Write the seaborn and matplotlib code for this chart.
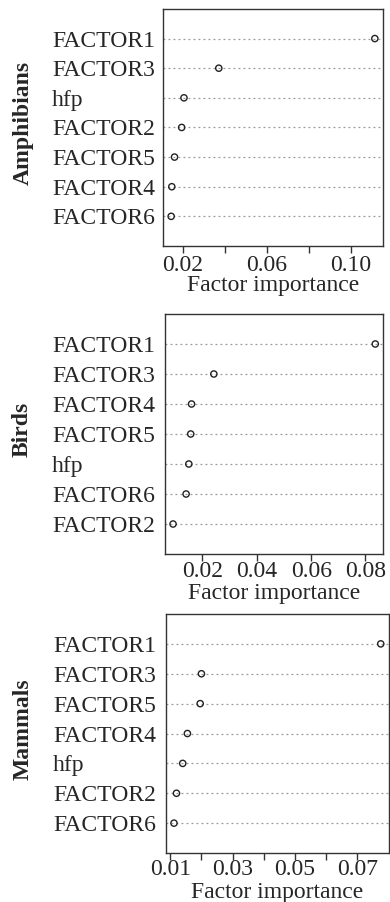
import numpy as np
import pandas as pd
import matplotlib
matplotlib.use("Agg")
import matplotlib.pyplot as plt
import seaborn as sns

# Factor importance, top to bottom as in each dotchart
amph_names = ['FACTOR1', 'FACTOR3', 'hfp', 'FACTOR2', 'FACTOR5', 'FACTOR4', 'FACTOR6']
amph_vals = [0.1116, 0.0372, 0.0206, 0.0195, 0.0161, 0.0148, 0.0145]

birds_names = ['FACTOR1', 'FACTOR3', 'FACTOR4', 'FACTOR5', 'hfp', 'FACTOR6', 'FACTOR2']
birds_vals = [0.0836, 0.0242, 0.0160, 0.0157, 0.0150, 0.0140, 0.0092]

mamm_names = ['FACTOR1', 'FACTOR3', 'FACTOR5', 'FACTOR4', 'hfp', 'FACTOR2', 'FACTOR6']
mamm_vals = [0.0775, 0.0200, 0.0196, 0.0155, 0.0140, 0.0120, 0.0112]

groups = ['Amphibians', 'Birds', 'Mammals']

amph_ticks = [0.02, 0.04, 0.06, 0.08, 0.10]
amph_ticklabels = ['0.02', '', '0.06', '', '0.10']
birds_ticks = [0.02, 0.04, 0.06, 0.08]
birds_ticklabels = ['0.02', '0.04', '0.06', '0.08']
mamm_ticks = [0.01, 0.02, 0.03, 0.04, 0.05, 0.06, 0.07]
mamm_ticklabels = ['0.01', '', '0.03', '', '0.05', '', '0.07']

sns.set_style('white')
plt.rcParams['font.family'] = ['Liberation Serif', 'DejaVu Serif']

fig = plt.figure(figsize=(3.9, 9.02), dpi=100)

# axes boxes in figure fractions (left, bottom, width, height)
boxes = [
    (0.418, 0.7273, 0.564, 0.2628),
    (0.423, 0.3858, 0.560, 0.2661),
    (0.4249, 0.0543, 0.5726, 0.2650),
]
panels = [
    (amph_names, amph_vals, amph_ticks, amph_ticklabels),
    (birds_names, birds_vals, birds_ticks, birds_ticklabels),
    (mamm_names, mamm_vals, mamm_ticks, mamm_ticklabels),
]
ylab_x = [-0.636, -0.656, -0.638]
label_left_px = [52, 52, 53]   # where the row labels start (left-justified)
xtick_pad = [1.5, 0, -0.5]

for i, (names, vals, ticks, ticklabels) in enumerate(panels):
    ax = fig.add_axes(boxes[i])
    df = pd.DataFrame({'factor': names, 'importance': vals})
    sns.stripplot(data=df, x='importance', y='factor', order=names,
                  jitter=False, size=4.5, color='black', linewidth=1.0,
                  edgecolor='#222222', ax=ax)
    for coll in ax.collections:
        coll.set_facecolor('none')
        coll.set_edgecolor('#222222')

    # R style axis range: data range plus 4 %
    lo, hi = min(vals), max(vals)
    pad = 0.04 * (hi - lo)
    ax.set_xlim(lo - pad, hi + pad)
    ax.set_ylim(len(names), -1)

    ax.yaxis.grid(True, linestyle=(0, (1.5, 2.5)), color='#9a9a9a', linewidth=0.9)
    ax.xaxis.grid(False)
    ax.set_axisbelow(True)

    ax.set_xticks(ticks)
    ax.set_xticklabels(ticklabels)
    ax.tick_params(axis='x', direction='out', length=5, width=1, color='#333333',
                   labelsize=17, pad=xtick_pad[i], bottom=True)
    left_px = boxes[i][0] * 390 - label_left_px[i]
    ax.tick_params(axis='y', length=0, labelsize=17, pad=left_px * 72 / 100, left=False)
    for lab in ax.get_yticklabels():
        lab.set_horizontalalignment('left')

    for sp in ax.spines.values():
        sp.set_visible(True)
        sp.set_color('#333333')
        sp.set_linewidth(1.0)

    ax.set_xlabel('Factor importance', fontsize=17, va='center')
    ax.xaxis.set_label_coords(0.5, -0.165)
    ax.set_ylabel(groups[i], fontsize=17, fontweight='bold', va='center')
    ax.yaxis.set_label_coords(ylab_x[i], 0.52)

plt.savefig('out.png', dpi=100)
